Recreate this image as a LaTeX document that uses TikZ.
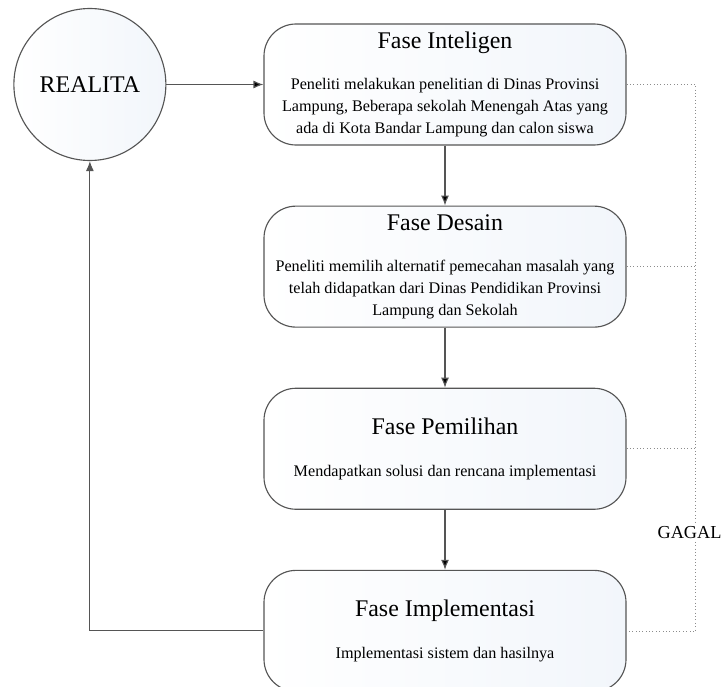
\documentclass[tikz,border=0pt]{standalone}
\usepackage{fontspec}
\setmainfont{Liberation Serif}
\usetikzlibrary{shapes, arrows, arrows.meta, calc, positioning}
\definecolor{pucat}{RGB}{242,246,251}
\definecolor{garis}{RGB}{85,85,85}

\begin{document}
\begin{tikzpicture}[>={Latex[length=2.5mm,width=2mm]}, node distance=1.5cm]
    \tikzstyle{fase} = [draw=garis, line width=0.8pt, rounded corners=0.8cm,
	minimum width=9.05cm, minimum height=3.025cm, inner sep=0pt,
	align=center, left color=white, right color=pucat,
	font=\fontsize{11.5}{15.6}\selectfont]
    \tikzstyle{realita} = [draw=garis, line width=0.8pt, circle, minimum size=3.8cm,
	inner sep=0pt, left color=white, right color=pucat,
	font=\fontsize{17}{20}\selectfont]

	\useasboundingbox (0,0) rectangle (18.05,-17.15);

	\node[fase] (inteligen) at (11.125,-2.1125)
		{{\fontsize{17}{20}\selectfont Fase Inteligen}\\[14pt]
		Peneliti melakukan penelitian di Dinas Provinsi\\
		Lampung, Beberapa sekolah Menengah Atas yang\\
		ada di Kota Bandar Lampung dan calon siswa};
	\node[fase, below=of inteligen] (desain)
		{{\fontsize{17}{20}\selectfont Fase Desain}\\[14pt]
		Peneliti memilih alternatif pemecahan masalah yang\\
		telah didapatkan dari Dinas Pendidikan Provinsi\\
		Lampung dan Sekolah};
	\node[fase, below=of desain] (pemilihan)
		{{\fontsize{17}{20}\selectfont Fase Pemilihan}\\[14pt]
		Mendapatkan solusi dan rencana implementasi};
	\node[fase, below=of pemilihan] (implementasi)
		{{\fontsize{17}{20}\selectfont Fase Implementasi}\\[14pt]
		Implementasi sistem dan hasilnya};
	\node[realita, left=2.425cm of inteligen] (realita) {REALITA};

	% alur utama
	\path[->, line width=0.8pt, draw=garis]
		(realita) edge (inteligen)
		(inteligen) edge (desain)
		(desain) edge (pemilihan)
		(pemilihan) edge (implementasi);
	\draw[->, line width=0.8pt, garis] (implementasi.west) -| (realita.south);

	% jalur gagal
	\coordinate[right=1.725cm of inteligen.east] (atas);
	\coordinate (bawah) at (atas |- implementasi.east);
	\draw[dotted, black!45] (inteligen.east) -- (atas) -- (bawah)
		-- (implementasi.east);
	\draw[dotted, black!45] (desain.east) -- (desain.east -| atas);
	\draw[dotted, black!45] (pemilihan.east) -- (pemilihan.east -| atas);
	\node[fill=white, inner sep=1pt, font=\fontsize{13}{15}\selectfont]
		(gagal) at ($(atas |- 0,-13.325)+(-0.15,0)$) {GAGAL};
\end{tikzpicture}
\end{document}
